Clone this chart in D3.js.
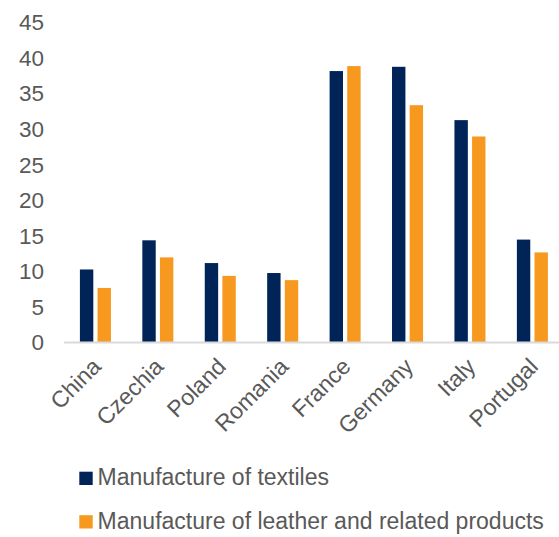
<!DOCTYPE html>
<html>
  <head>
    <meta charset="utf-8">
    <script src="https://d3js.org/d3.v7.min.js"></script>
    <style>
      body { margin: 0px; background: #fff; }
      .tick line { display: none; }
      .domain { display: none; }
      .y-axis text {
        fill: #595959;
        font-size: 22.5px;
        font-family: "Liberation Sans", Arial, sans-serif;
      }
      .x-axis text {
        fill: #595959;
        font-size: 23px;
        font-family: "Liberation Sans", Arial, sans-serif;
      }
      .legend text {
        fill: #595959;
        font-size: 23px;
        font-family: "Liberation Sans", Arial, sans-serif;
      }
    </style>
  </head>
  <body>
    <svg width="559" height="537"></svg>
    <script>
      const countries = ['China', 'Czechia', 'Poland', 'Romania', 'France', 'Germany', 'Italy', 'Portugal'];
      const textiles = [10.2, 14.3, 11.1, 9.7, 38.1, 38.7, 31.2, 14.4];
      const leather = [7.6, 11.9, 9.3, 8.7, 38.8, 33.3, 28.9, 12.6];
      const seriesNames = ['Manufacture of textiles', 'Manufacture of leather and related products'];
      const seriesColors = ['#002458', '#F7991F'];
      const yTickValues = [0, 5, 10, 15, 20, 25, 30, 35, 40, 45];

      const svg = d3.select('svg');
      const plotLeft = 64.3, plotRight = 563.5, plotTop = 22, plotBottom = 342;

      const xScale = d3.scaleBand()
        .domain(countries)
        .range([plotLeft, plotRight])
        .paddingInner(0.503)
        .paddingOuter(0.25);

      const xSub = d3.scaleBand()
        .domain([0, 1])
        .range([0, xScale.bandwidth()])
        .paddingInner(0.24);

      const yScale = d3.scaleLinear()
        .domain([0, 45])
        .range([plotBottom, plotTop]);

      const yAxis = d3.axisLeft(yScale)
        .tickValues(yTickValues)
        .tickSize(0)
        .tickPadding(0);

      svg.append('g')
        .attr('class', 'y-axis')
        .attr('transform', 'translate(44,0)')
        .call(yAxis)
        .selectAll('text')
        .attr('dy', '0.35em');

      const data = countries.map((c, i) => ({ country: c, values: [textiles[i], leather[i]] }));

      const groups = svg.selectAll('g.cat').data(data)
        .enter().append('g')
          .attr('class', 'cat')
          .attr('transform', d => `translate(${xScale(d.country)},0)`);

      groups.selectAll('rect').data(d => d.values)
        .enter().append('rect')
          .attr('x', (v, i) => xSub(i))
          .attr('width', xSub.bandwidth())
          .attr('y', v => yScale(v))
          .attr('height', v => yScale(0) - yScale(v))
          .attr('fill', (v, i) => seriesColors[i]);

      svg.append('line')
        .attr('x1', 64).attr('x2', 559)
        .attr('y1', plotBottom + 0.5).attr('y2', plotBottom + 0.5)
        .attr('stroke', '#d9d9d9')
        .attr('stroke-width', 2);

      const xAxis = d3.axisBottom(xScale).tickSize(0).tickPadding(0);
      svg.append('g')
        .attr('class', 'x-axis')
        .attr('transform', `translate(0,${plotBottom})`)
        .call(xAxis)
        .selectAll('text')
          .attr('text-anchor', 'end')
          .attr('y', 0)
          .attr('dy', 0)
          .attr('transform', 'translate(7,26) rotate(-45)');

      const legend = svg.append('g').attr('class', 'legend');
      const legendItems = legend.selectAll('g').data(seriesNames)
        .enter().append('g')
          .attr('transform', (d, i) => `translate(79.3,${471.7 + i * 43.5})`);
      legendItems.append('rect')
        .attr('width', 13.4).attr('height', 13.3)
        .attr('fill', (d, i) => seriesColors[i]);
      legendItems.append('text')
        .attr('x', 18.3)
        .attr('y', 13.3)
        .text(d => d);
    </script>
  </body>
</html>
